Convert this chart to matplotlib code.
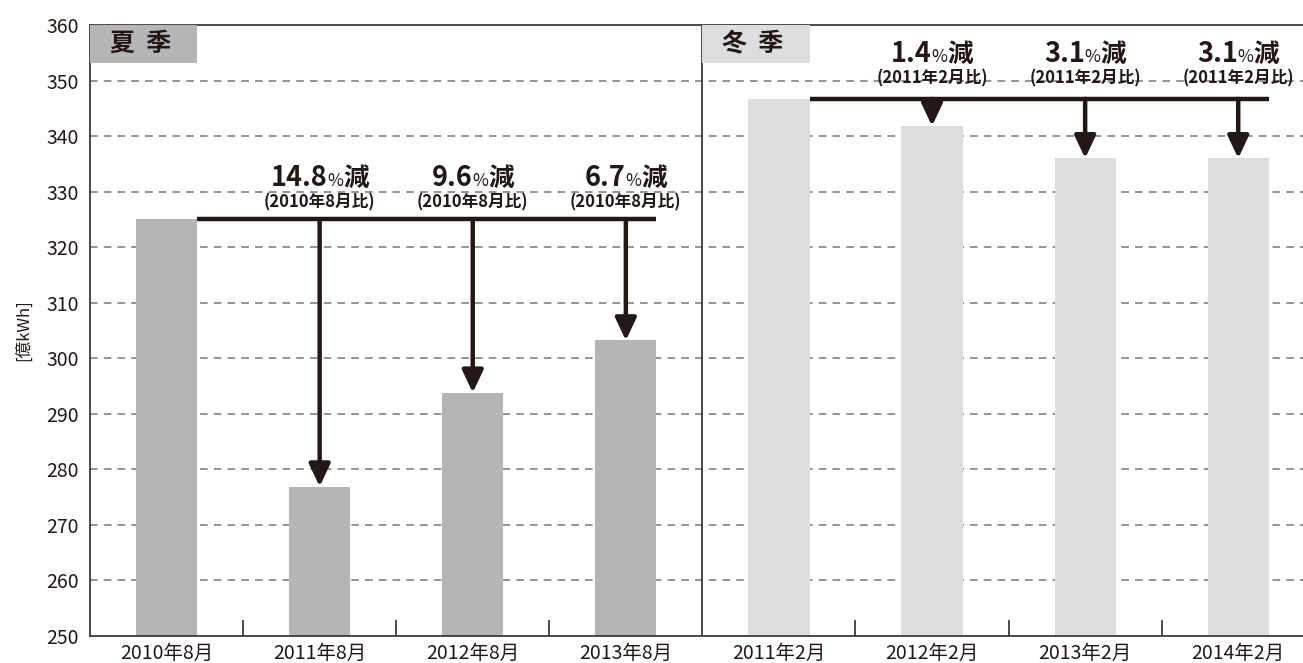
import matplotlib
matplotlib.use('Agg')
import matplotlib.pyplot as plt
from matplotlib.patches import Rectangle
from matplotlib.transforms import Affine2D

plt.rcParams['font.family'] = ['Noto Sans CJK JP', 'DejaVu Sans']

# electricity demand [億kWh]
summer_labels = ['2010年8月', '2011年8月', '2012年8月', '2013年8月']
summer_values = [325.0, 276.9, 293.8, 303.2]
summer_pct = ['14.8', '9.6', '6.7']
summer_base = '(2010年8月比)'

winter_labels = ['2011年2月', '2012年2月', '2013年2月', '2014年2月']
winter_values = [346.7, 341.8, 336.0, 336.0]
winter_pct = ['1.4', '3.1', '3.1']
winter_base = '(2011年2月比)'

yticks = list(range(250, 361, 10))

INK = '#231815'
SUMMER_C = '#b5b5b6'
WINTER_C = '#dcdddd'
BAR_W = 0.4

fig = plt.figure(figsize=(13.03, 6.63), dpi=100)
ax = fig.add_axes([90 / 1303, 27 / 663, 1 - 90 / 1303, 611 / 663])

xs_s = list(range(4))
xs_w = [4 + i for i in range(4)]
ax.bar(xs_s, [v - 250 for v in summer_values], bottom=250, width=BAR_W, color=SUMMER_C, zorder=2)
ax.bar(xs_w, [v - 250 for v in winter_values], bottom=250, width=BAR_W, color=WINTER_C, zorder=2)

ax.set_xlim(-0.5, 7.423)
ax.set_ylim(250, 360)
ax.set_yticks(yticks)
ax.set_xticks(xs_s + xs_w)
ax.set_xticklabels(summer_labels + winter_labels)
ax.tick_params(axis='both', length=0, colors=INK)
ax.tick_params(axis='x', pad=5, labelsize=14)
ax.tick_params(axis='y', pad=8, labelsize=14)

for y in yticks[1:-1]:
    ax.axhline(y, color='#777777', lw=1.1, ls=(0, (5, 4)), zorder=1)

for s in ['left', 'bottom', 'top']:
    ax.spines[s].set_color('#3e3a39')
    ax.spines[s].set_linewidth(1.3)
ax.spines['right'].set_visible(False)

# divider between summer and winter
ax.axvline(3.5, color='#3e3a39', lw=1.3, zorder=3)
# short separators between categories
for x in [0.5, 1.5, 2.5, 4.5, 5.5, 6.5]:
    ax.axvline(x, ymax=0.025, color='#3e3a39', lw=1.3, zorder=3)

ax.set_ylabel('[億kWh]', fontsize=12, color=INK, labelpad=10)


def season_box(x0, text, color):
    ax.add_patch(Rectangle((x0, 353.2), 0.7, 6.8, color=color, zorder=3, lw=0))
    ax.text(x0 + 0.33, 356.6, text, ha='center', va='center', fontsize=18,
            fontweight='bold', color=INK, zorder=4)


season_box(-0.5, '夏  季', SUMMER_C)
season_box(3.5, '冬  季', WINTER_C)

fig.canvas.draw()
renderer = fig.canvas.get_renderer()


def pct_label(x, y, num, base, y2):
    parts = [(num, 19.5, 'bold'), ('%', 12.5, 'normal'), ('減', 18.5, 'bold')]
    texts = [ax.text(x, y, p, fontsize=fs, fontweight=fw, color=INK, ha='left', va='baseline')
             for p, fs, fw in parts]
    widths = [t.get_window_extent(renderer).width for t in texts]
    off = -sum(widths) / 2
    for t, w in zip(texts, widths):
        t.set_transform(ax.transData + Affine2D().translate(off, 0))
        off += w
    ax.text(x, y2, base, fontsize=12, fontweight='bold', color=INK, ha='center', va='center')


def drops(xs, values, pcts, base, y_big, y_small):
    ref = values[0]
    ax.plot([xs[0] + BAR_W / 2, xs[-1] + BAR_W / 2], [ref, ref], color=INK, lw=3.2, zorder=4,
            solid_capstyle='butt')
    for x, v, p in zip(xs[1:], values[1:], pcts):
        ax.annotate('', xy=(x, v), xytext=(x, ref),
                    arrowprops=dict(arrowstyle='-|>,head_width=0.4,head_length=0.85',
                                    lw=3.2, color=INK, shrinkA=0, shrinkB=0,
                                    mutation_scale=16), zorder=4)
        pct_label(x, y_big, p, base, y_small)


drops(xs_s, summer_values, summer_pct, summer_base, 331.0, 328.0)
drops(xs_w, winter_values, winter_pct, winter_base, 353.4, 350.4)

fig.savefig('out.png', dpi=100)
